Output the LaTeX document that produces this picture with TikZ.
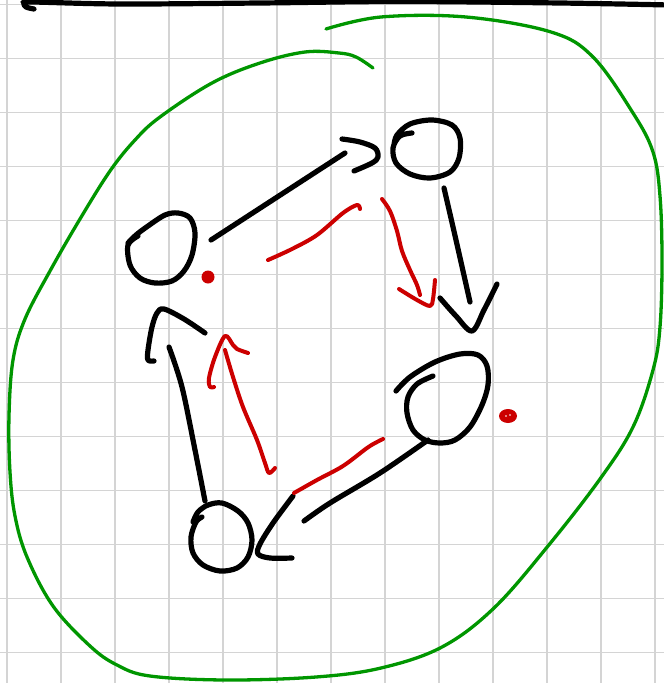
\documentclass[tikz,border=0pt]{standalone}
\begin{document}
\begin{tikzpicture}[x=1pt,y=-1pt,
  gridline/.style={draw=gridgray,line width=1.5pt},
  ink/.style={draw=black,line width=5.2pt,line cap=round,line join=round},
  redink/.style={draw=penred,line width=4pt,line cap=round,line join=round},
  greenink/.style={draw=pengreen,line width=3.3pt,line cap=round,line join=round},
  sm/.style={smooth,tension=0.55}]
\definecolor{gridgray}{RGB}{212,212,212}
\definecolor{penred}{RGB}{204,0,0}
\definecolor{pengreen}{RGB}{0,150,0}
\useasboundingbox (0,0) rectangle (664,683);
\fill[white] (0,0) rectangle (664,683);
% grid
\foreach \k in {0,...,12} {
  \draw[gridline] (7+54*\k,0) -- (7+54*\k,683);
  \draw[gridline] (0,4.6+54*\k) -- (664,4.6+54*\k);
}
% top black line
\draw[ink] plot[sm] coordinates {(34,9) (26,7) (24,3) (32,2) (120,4) (260,3) (400,1.5) (560,3) (670,5)};
% green outer curve
\draw[greenink] plot[smooth,tension=0.6] coordinates {(326,29) (381,17) (466,17) (551,32) (593,57) (633,113) (653,152) (660,196) (662,261) (660,327) (653,370) (633,427) (600,479) (548,546) (494,608) (442,647) (381,668) (316,677) (226,680) (150,676) (117,665) (90,646) (53,606) (27,557) (15,516) (10,472) (9,416) (13,360) (25,319) (50,271) (80,219) (110,171) (135,140) (160,117) (212,83) (260,63) (305,52) (339,53) (356,57) (373,68)};
% node A (top right)
\draw[ink] plot[sm] coordinates {(412,133) (400,136) (393,148) (396,163) (410,174) (430,178) (450,172) (459,158) (460,138) (452,125) (432,120) (410,124) (397,135) (394,145)};
% node B (left)
\draw[ink] plot[sm] coordinates {(138,236) (128,245) (130,265) (140,278) (155,283) (172,281) (184,271) (192,255) (195,233) (190,218) (178,213) (165,215) (148,226) (136,235) (128,243)};
% node C (right middle)
\draw[ink] plot[sm] coordinates {(396,391) (410,377) (435,362) (460,354) (478,355) (487,366) (488,385) (482,405) (470,427) (455,440) (440,443) (425,440) (413,430) (407,413) (408,397) (417,384) (433,376)};
% node D (bottom left)
\draw[ink] plot[sm] coordinates {(202,517) (196,522) (191,537) (193,553) (203,565) (220,571) (237,568) (248,557) (252,540) (248,523) (238,511) (222,503) (208,505) (198,512) (193,522)};
% B -> A
\draw[ink] (211,240) -- (345,153);
\draw[ink] plot[sm] coordinates {(342,139) (360,142) (375,148) (378,157) (372,163) (354,171)};
% A -> C
\draw[ink] plot[sm] coordinates {(444,188) (456,240) (470,302)};
\draw[ink] plot[sm] coordinates {(440,298) (456,316) (472,331) (484,310) (497,284)};
% C -> D
\draw[ink] plot[sm] coordinates {(428,440) (380,473) (330,503) (304,521)};
\draw[ink] plot[sm] coordinates {(293,496) (273,523) (260,544) (258,554) (270,558) (292,558)};
% D -> B
\draw[ink] plot[sm] coordinates {(205,501) (195,450) (182,387) (169,347)};
\draw[ink] plot[sm] coordinates {(154,361) (148,360) (148,350) (152,327) (157,313) (164,309) (184,319) (205,333)};
% red strokes
\draw[redink] plot[sm] coordinates {(268,260) (292,249) (317,235) (343,213) (357,205) (360,209)};
\draw[redink] plot[sm] coordinates {(382,199) (390,211) (397,231) (402,251) (410,270) (417,285) (420,295)};
\draw[redink] plot[sm] coordinates {(399,289) (417,300) (430,306) (433,299) (435,280)};
\draw[redink] plot[sm] coordinates {(294,493) (317,480) (343,466) (367,448) (377,442) (383,439)};
\draw[redink] plot[sm] coordinates {(275,468) (269,473) (265,463) (257,440) (243,407) (233,377) (225,350)};
\draw[redink] plot[sm] coordinates {(214,387) (210,387) (209,378) (215,357) (225,336) (233,345) (237,349) (248,353)};
% red dots
\fill[penred] (208,277) circle[radius=6.5];
\fill[penred] (508,416) ellipse[x radius=9,y radius=7];
\fill[white] (506,416) circle[radius=0.9];
\fill[white] (510,415) circle[radius=0.9];
\end{tikzpicture}
\end{document}
